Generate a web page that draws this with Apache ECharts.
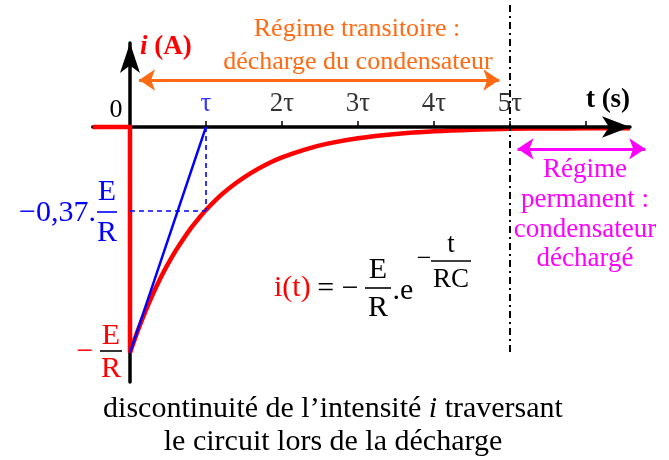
<!DOCTYPE html>
<html>
<head>
<meta charset="utf-8">
<script src="https://cdn.jsdelivr.net/npm/echarts@6/dist/echarts.min.js"></script>
<style>
  html, body { margin: 0; padding: 0; background: #fff; }
  #chart { width: 669px; height: 460px; }
</style>
</head>
<body>
<div id="chart"></div>
<script>
// Time is expressed in units of tau = RC, current in units of E/R.
const tauTicks  = [1, 2, 3, 4, 5, 6];
const tauLabels = ['τ', '2τ', '3τ', '4τ', '5τ'];

// Current before the switch closes, then the jump at t = 0
const tBefore = [-0.49, 0, 0];
const iBefore = [0, 0, -1];

// Discharge current i(t) = -E/R . exp(-t/RC)
const tDischarge = [0, 0.1, 0.2, 0.3, 0.4, 0.5, 0.6, 0.7, 0.8, 0.9, 1, 1.2, 1.4, 1.6, 1.8, 2, 2.3, 2.6, 3, 3.5, 4, 4.5, 5, 5.5, 6, 6.58];
const iDischarge = [-1, -0.905, -0.819, -0.741, -0.670, -0.607, -0.549, -0.497, -0.449, -0.407, -0.368, -0.301, -0.247, -0.202, -0.165, -0.135, -0.100, -0.074, -0.050, -0.031, -0.019, -0.012, -0.008, -0.007, -0.006, -0.006];

// Tangent at the origin reaching zero at t = tau
const tangentT = [0, 1];
const tangentI = [-1, 0];

// Reading of the time constant
const tauPoint = 1;
const level37 = -0.37;

// Boundary between the transient and the steady state
const steadyStart = 5;
const boundaryTop = 0.54, boundaryBottom = -1.01;

// Range arrows (start, end, level)
const transientArrow = [0.12, 4.86, 0.208];
const steadyArrow = [5.1, 6.78, -0.097];

const zip = (a, b) => a.map((v, k) => [v, b[k]]);

const SERIF = '"Liberation Serif", "DejaVu Serif", serif';
const RED = '#ff0000', BLUE = '#0000ff', ORANGE = '#ff6a13', MAGENTA = '#ff00ff';

function text(x, y, s, fill, size, extra) {
  return {
    type: 'text', x: x, y: y, z: 10,
    style: Object.assign({
      text: s, fill: fill, fontSize: size, fontFamily: SERIF,
      align: 'center', verticalAlign: 'middle'
    }, extra || {})
  };
}
function fraction(cx, cy, num, den, color, barColor, size, barW, gapUp, gapDown) {
  return {
    type: 'group', z: 10,
    children: [
      text(cx, cy - gapUp, num, color, size),
      { type: 'line', z: 10, shape: { x1: cx - barW / 2, y1: cy, x2: cx + barW / 2, y2: cy },
        style: { stroke: barColor, lineWidth: 1.6 } },
      text(cx, cy + gapDown, den, color, size)
    ]
  };
}

const chart = echarts.init(document.getElementById('chart'), null, { renderer: 'canvas' });

chart.setOption({
  animation: false,
  backgroundColor: '#fff',
  grid: { left: 92.76, right: 39, top: 43, bottom: 78, containLabel: false },
  xAxis: {
    type: 'value', min: -0.49, max: 6.58, z: 3,
    axisLine: { onZero: true, symbol: ['none', 'arrow'], symbolSize: [16, 28],
      lineStyle: { color: '#000', width: 3.5 } },
    axisTick: { show: true, inside: true, length: 6, customValues: tauTicks,
      lineStyle: { color: '#000', width: 1.5 } },
    axisLabel: { show: false },
    splitLine: { show: false }
  },
  yAxis: {
    type: 'value', min: -1.13, max: 0.372, z: 1,
    axisLine: { onZero: true, symbol: ['none', 'arrow'], symbolSize: [15, 30],
      lineStyle: { color: '#000', width: 3.5 } },
    axisTick: { show: false },
    axisLabel: { show: false },
    splitLine: { show: false }
  },
  series: [
    {
      type: 'line', data: zip(tDischarge, iDischarge), smooth: 0.3,
      showSymbol: false, clip: false, z: 2,
      lineStyle: { color: RED, width: 4.5 }
    },
    {
      type: 'line', data: zip(tBefore, iBefore), showSymbol: false, clip: false, z: 4,
      lineStyle: { color: RED, width: 4.5, cap: 'butt', join: 'miter' }
    },
    {
      type: 'line', data: zip(tangentT, tangentI), showSymbol: false, clip: false, z: 5,
      lineStyle: { color: BLUE, width: 2.5 }
    },
    {
      type: 'lines', coordinateSystem: 'cartesian2d', clip: false, z: 5,
      symbol: 'none',
      lineStyle: { color: BLUE, width: 1.6, type: [5, 4], opacity: 1 },
      data: [
        { coords: [[tauPoint, 0], [tauPoint, level37]] },
        { coords: [[0, level37], [tauPoint, level37]] }
      ]
    },
    {
      type: 'lines', coordinateSystem: 'cartesian2d', clip: false, z: 5,
      symbol: 'none',
      lineStyle: { color: '#000', width: 2, type: [7, 4, 2, 4], opacity: 1 },
      data: [{ coords: [[steadyStart, boundaryTop], [steadyStart, boundaryBottom]] }]
    },
    {
      type: 'lines', coordinateSystem: 'cartesian2d', clip: false, z: 5,
      symbol: ['arrow', 'arrow'], symbolSize: 16,
      lineStyle: { color: ORANGE, width: 3, opacity: 1 },
      data: [{ coords: [[transientArrow[0], transientArrow[2]], [transientArrow[1], transientArrow[2]]] }]
    },
    {
      type: 'lines', coordinateSystem: 'cartesian2d', clip: false, z: 5,
      symbol: ['arrow', 'arrow'], symbolSize: 16,
      lineStyle: { color: MAGENTA, width: 3, opacity: 1 },
      data: [{ coords: [[steadyArrow[0], steadyArrow[2]], [steadyArrow[1], steadyArrow[2]]] }]
    },
    {
      // tick labels of the time axis, written above the axis line
      type: 'scatter', symbolSize: 0, clip: false, z: 6, silent: true,
      data: tauLabels.map((s, k) => ({
        value: [tauTicks[k], 0],
        label: { color: k === 0 ? BLUE : '#000' }
      })),
      label: {
        show: true, position: 'top', distance: 10,
        fontSize: 27, fontFamily: SERIF,
        formatter: p => tauLabels[p.dataIndex]
      }
    }
  ],
  graphic: [
    // axis names
    { type: 'text', x: 140, y: 47, z: 10, style: {
        text: '{i|i }{a|(A)}', fontFamily: SERIF, verticalAlign: 'middle', align: 'left',
        rich: {
          i: { fill: RED, fontSize: 27, fontWeight: 'bold', fontStyle: 'italic', fontFamily: SERIF },
          a: { fill: RED, fontSize: 27, fontWeight: 'bold', fontFamily: SERIF }
        } } },
    text(608, 100, 't (s)', '#000', 27, { fontWeight: 'bold' }),
    text(116, 110, '0', '#000', 26),

    // transient regime
    text(357, 29, 'Régime transitoire :', ORANGE, 26),
    text(358, 62, 'décharge du condensateur', ORANGE, 26),

    // steady state
    text(585, 170, 'Régime', MAGENTA, 27),
    text(585, 200, 'permanent :', MAGENTA, 27),
    text(585, 230, 'condensateur', MAGENTA, 27),
    text(585, 259, 'déchargé', MAGENTA, 27),

    // value read at t = tau
    text(96, 213, '−0,37.', BLUE, 30, { align: 'right' }),
    fraction(107, 212, 'E', 'R', BLUE, BLUE, 30, 20, 20, 21),

    // initial value
    text(85, 352, '−', RED, 30),
    fraction(111, 351, 'E', 'R', RED, '#000', 30, 22, 15, 18),

    // expression of the current
    text(274, 288, 'i(t)', RED, 30, { align: 'left' }),
    text(338, 289, '= −', '#000', 30),
    fraction(378, 288, 'E', 'R', '#000', '#000', 30, 26, 18, 20),
    text(403, 291, '.e', '#000', 30),
    text(424, 259, '−', '#000', 26),
    fraction(451, 261, 't', 'RC', '#000', '#000', 27, 40, 16, 19),

    // caption
    { type: 'text', x: 333, y: 409, z: 10, style: {
        text: '{n|discontinuité de l’intensité }{it|i}{n| traversant}',
        align: 'center', verticalAlign: 'middle', fontFamily: SERIF,
        rich: {
          n: { fill: '#000', fontSize: 30, fontFamily: SERIF },
          it: { fill: '#000', fontSize: 30, fontStyle: 'italic', fontFamily: SERIF }
        } } },
    text(333, 442, 'le circuit lors de la décharge', '#000', 30)
  ]
});
</script>
</body>
</html>
